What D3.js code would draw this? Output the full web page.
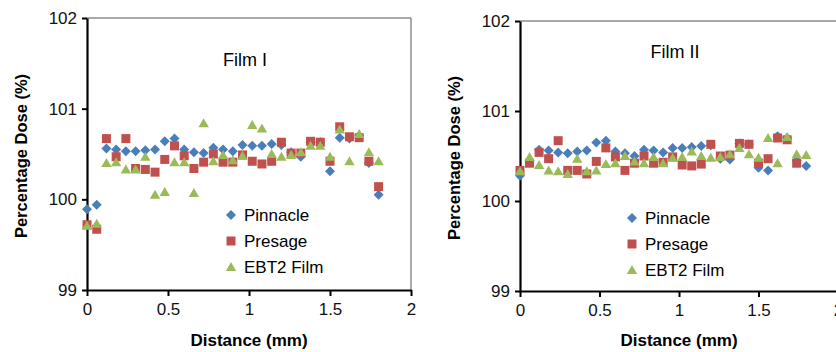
<!DOCTYPE html>
<html>
<head>
<meta charset="utf-8">
<script src="https://cdn.jsdelivr.net/npm/d3@7"></script>
<style>
  html, body { margin: 0; padding: 0; background: #fff; }
  svg { display: block; font-family: "Liberation Sans", Arial, sans-serif; }
</style>
</head>
<body>
<div id="chart"></div>
<script>
// distance positions (mm)
const distance = [0, 0.06, 0.12, 0.18, 0.24, 0.3, 0.36, 0.42, 0.48, 0.54, 0.6,
  0.66, 0.72, 0.78, 0.84, 0.9, 0.96, 1.02, 1.08, 1.14, 1.2,
  1.26, 1.32, 1.38, 1.44, 1.5, 1.56, 1.62, 1.68, 1.74, 1.8];

const seriesNames = ['Pinnacle', 'Presage', 'EBT2 Film'];
const panelTitles = ['Film I', 'Film II'];
const yTicks = [99, 100, 101, 102];
const xTicks = [0, 0.5, 1, 1.5, 2];

// Film I
const film1Pinnacle = [99.89, 99.94, 100.56, 100.55, 100.53, 100.53, 100.54, 100.55, 100.64, 100.67, 100.55,
  100.52, 100.51, 100.57, 100.55, 100.53, 100.60, 100.59, 100.59, 100.61, 100.60,
  100.52, 100.47, 100.63, 100.63, 100.31, 100.68, 100.67, 100.70, 100.40, 100.05];
const film1Presage = [99.72, 99.67, 100.67, 100.47, 100.67, 100.34, 100.33, 100.30, 100.44, 100.59, 100.48,
  100.34, 100.41, 100.50, 100.41, 100.41, 100.49, 100.42, 100.39, 100.42, 100.63,
  100.51, 100.51, 100.64, 100.63, 100.42, 100.80, 100.69, 100.68, 100.42, 100.14];
const film1Ebt2 = [99.71, 99.73, 100.40, 100.41, 100.33, 100.33, 100.47, 100.05, 100.08, 100.41, 100.41,
  100.07, 100.84, 100.42, 100.49, 100.43, 100.48, 100.82, 100.78, 100.50, 100.47,
  100.49, 100.52, 100.59, 100.59, 100.47, 100.77, 100.42, 100.72, 100.52, 100.42];

// Film II
const film2Pinnacle = [100.28, 100.45, 100.57, 100.56, 100.54, 100.53, 100.55, 100.56, 100.65, 100.67, 100.55,
  100.53, 100.50, 100.57, 100.56, 100.54, 100.59, 100.59, 100.60, 100.61, 100.62,
  100.47, 100.46, 100.64, 100.63, 100.37, 100.34, 100.72, 100.70, 100.45, 100.39];
const film2Presage = [100.34, 100.42, 100.54, 100.47, 100.67, 100.34, 100.34, 100.30, 100.44, 100.59, 100.49,
  100.34, 100.42, 100.50, 100.42, 100.43, 100.49, 100.40, 100.39, 100.41, 100.63,
  100.50, 100.51, 100.64, 100.63, 100.42, 100.47, 100.70, 100.68, 100.42, null];
const film2Ebt2 = [100.33, 100.49, 100.40, 100.34, 100.33, 100.30, 100.47, 100.33, 100.34, 100.41, 100.42,
  100.50, 100.44, 100.42, 100.49, 100.42, 100.48, 100.49, 100.55, 100.50, 100.48,
  100.49, 100.52, 100.59, 100.52, 100.48, 100.70, 100.42, 100.71, 100.52, 100.51];

const colors = ['#4A7EBB', '#C0504D', '#9BBB59'];

// marker shapes (Excel style)
const shapes = [
  'M0,-5L5,0L0,5L-5,0Z',          // diamond
  'M-4.5,-4.5H4.5V4.5H-4.5Z',     // square
  'M0,-5L5.2,4L-5.2,4Z'           // triangle
];

const width = 836, height = 352;
const svg = d3.select('#chart')
  .append('svg')
  .attr('width', width)
  .attr('height', height);

const panels = [
  { title: panelTitles[0], series: [film1Pinnacle, film1Presage, film1Ebt2],
    left: 87, right: 411, top: 18, bottom: 290,
    titleX: 245, titleY: 60, legendX: 231, legendY: 215, yLabelX: 21 },
  { title: panelTitles[1], series: [film2Pinnacle, film2Presage, film2Ebt2],
    left: 520, right: 838, top: 21, bottom: 291,
    titleX: 675, titleY: 52, legendX: 632, legendY: 218, yLabelX: 454 }
];

panels.forEach(p => {
  const g = svg.append('g');

  const xScale = d3.scaleLinear().domain([0, 2]).range([p.left, p.right]);
  const yScale = d3.scaleLinear().domain([99, 102]).range([p.bottom, p.top]);

  // plot frame (top / right)
  g.append('path')
    .attr('d', `M${p.left},${p.top}H${p.right}V${p.bottom}`)
    .attr('fill', 'none')
    .attr('stroke', '#555')
    .attr('stroke-width', 1);

  // Y axis
  const yAxis = g.append('g')
    .attr('transform', `translate(${p.left},0)`)
    .call(d3.axisLeft(yScale).tickValues(yTicks).tickFormat(d3.format('d')).tickSize(5).tickPadding(5).tickSizeOuter(0));

  // X axis
  const xAxis = g.append('g')
    .attr('transform', `translate(0,${p.bottom})`)
    .call(d3.axisBottom(xScale).tickValues(xTicks).tickFormat(d => d).tickSize(6).tickPadding(7).tickSizeOuter(0));

  [yAxis, xAxis].forEach(ax => {
    ax.select('.domain').attr('stroke', '#000').attr('stroke-width', 2.2);
    ax.selectAll('.tick line').attr('stroke', '#000').attr('stroke-width', 2);
    ax.selectAll('.tick text')
      .attr('fill', '#111')
      .style('font-size', '17px')
      .style('font-family', '"Liberation Sans", Arial, sans-serif');
  });

  // axis titles
  g.append('text')
    .attr('x', (p.left + p.right) / 2)
    .attr('y', 346)
    .attr('text-anchor', 'middle')
    .style('font-size', '17px')
    .style('font-weight', 'bold')
    .text('Distance (mm)');

  g.append('text')
    .attr('transform', `translate(${p.yLabelX},${(p.top + p.bottom) / 2 + 2}) rotate(-90)`)
    .attr('text-anchor', 'middle')
    .attr('dy', '0.35em')
    .style('font-size', '16.5px')
    .style('font-weight', 'bold')
    .text('Percentage Dose (%)');

  // panel title
  g.append('text')
    .attr('x', p.titleX)
    .attr('y', p.titleY)
    .attr('text-anchor', 'middle')
    .attr('dy', '0.35em')
    .style('font-size', '18px')
    .text(p.title);

  // points
  p.series.forEach((values, si) => {
    const pts = distance.map((d, i) => ({ x: d, y: values[i] })).filter(d => d.y != null);
    g.selectAll(`path.s${si}`)
      .data(pts)
      .enter()
      .append('path')
      .attr('class', `s${si}`)
      .attr('transform', d => `translate(${xScale(d.x)},${yScale(d.y)})`)
      .attr('d', shapes[si])
      .attr('fill', colors[si]);
  });

  // legend
  const legend = g.append('g')
    .attr('transform', `translate(${p.legendX},${p.legendY})`);
  seriesNames.forEach((name, si) => {
    const row = legend.append('g').attr('transform', `translate(0,${si * 26})`);
    row.append('path').attr('d', shapes[si]).attr('fill', colors[si]);
    row.append('text')
      .attr('x', 13)
      .attr('dy', '0.35em')
      .style('font-size', '17px')
      .text(name);
  });
});
</script>
</body>
</html>
